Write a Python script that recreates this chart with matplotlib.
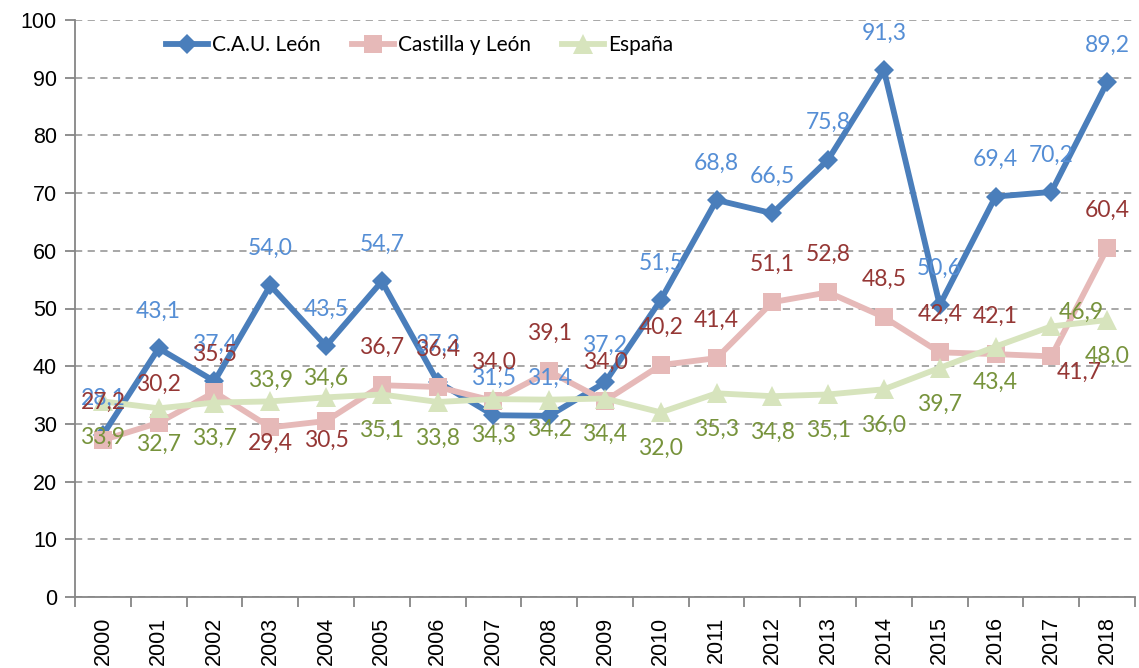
import matplotlib
matplotlib.use("Agg")
import matplotlib.pyplot as plt
import numpy as np

# -----------------------------
# Datos
# -----------------------------
years = ["2000", "2001", "2002", "2003", "2004", "2005", "2006", "2007", "2008", "2009",
         "2010", "2011", "2012", "2013", "2014", "2015", "2016", "2017", "2018"]
cau_leon = [28.1, 43.1, 37.4, 54.0, 43.5, 54.7, 37.3, 31.5, 31.4, 37.2,
            51.5, 68.8, 66.5, 75.8, 91.3, 50.6, 69.4, 70.2, 89.2]
castilla = [27.2, 30.2, 35.5, 29.4, 30.5, 36.7, 36.4, 34.0, 39.1, 34.0,
            40.2, 41.4, 51.1, 52.8, 48.5, 42.4, 42.1, 41.7, 60.4]
espana = [33.9, 32.7, 33.7, 33.9, 34.6, 35.1, 33.8, 34.3, 34.2, 34.4,
          32.0, 35.3, 34.8, 35.1, 36.0, 39.7, 43.4, 46.9, 48.0]
series_names = ["C.A.U. León", "Castilla y León", "España"]

# -----------------------------
# Estilo
# -----------------------------
line_colors = ["#4a7ebb", "#e6b9b8", "#d7e4bd"]
label_colors = ["#558ed5", "#953735", "#77933c"]
markers = ["D", "s", "^"]
msizes = [10, 13, 14]

# desplazamiento de etiquetas en pixeles (por defecto arriba / abajo)
default_off = [(0, 37), (0, 38), (0, -36)]
special_off = {
    (1, 3): (0, -16), (1, 4): (0, -19), (1, 17): (28, -16),
    (2, 3): (0, 21), (2, 4): (0, 19), (2, 8): (0, -30), (2, 17): (30, 14),
}

fig = plt.figure(figsize=(11.39, 6.68), dpi=100)
ax = fig.add_axes([75 / 1139, 1 - 597 / 668, 1060 / 1139, 577 / 668])

x = np.arange(len(years))
all_series = [cau_leon, castilla, espana]
handles = []
for k, vals in enumerate(all_series):
    h, = ax.plot(x, vals, color=line_colors[k], lw=4.2, marker=markers[k],
                 markersize=msizes[k], markeredgewidth=0, zorder=3 + k,
                 label=series_names[k])
    handles.append(h)

for k, vals in enumerate(all_series):
    for i, v in enumerate(vals):
        dx, dy = special_off.get((k, i), default_off[k])
        ax.annotate(f"{v:.1f}".replace(".", ","), (x[i], v), xytext=(dx, dy),
                    textcoords="offset pixels", ha="center", va="center",
                    color=label_colors[k], fontsize=16.5, family="Lato", zorder=10)

ax.set_xlim(-0.5, len(years) - 0.5)
ax.set_ylim(0, 100)
ax.set_yticks(np.arange(0, 101, 10))
ax.yaxis.grid(True, linestyle=(0, (4, 3)), color="#a0a0a0", lw=1.3)
ax.set_axisbelow(True)

ax.set_xticks(x)
ax.set_xticklabels(years, rotation=90, family="Liberation Sans", fontsize=15.5)
ax.set_xticks(np.arange(-0.5, len(years), 1), minor=True)
ax.tick_params(axis="x", which="major", length=0, pad=14)
ax.tick_params(axis="x", which="minor", length=7, width=1.3, color="#868686", direction="out")
ax.tick_params(axis="y", length=7, width=1.3, color="#868686", pad=6)
for lab in ax.get_yticklabels():
    lab.set_family("Liberation Sans")
    lab.set_fontsize(15.5)

for s in ["top", "right"]:
    ax.spines[s].set_visible(False)
for s in ["left", "bottom"]:
    ax.spines[s].set_color("#868686")
    ax.spines[s].set_linewidth(1.3)

fig.legend(handles=handles, loc="center left", bbox_to_anchor=(156 / 1139, 1 - 45 / 668),
           ncol=3, frameon=False, borderpad=0, handlelength=2.0, handletextpad=0.2,
           columnspacing=1.5, prop={"family": "Lato", "size": 15})

plt.savefig("out.png", dpi=100)
plt.close()
